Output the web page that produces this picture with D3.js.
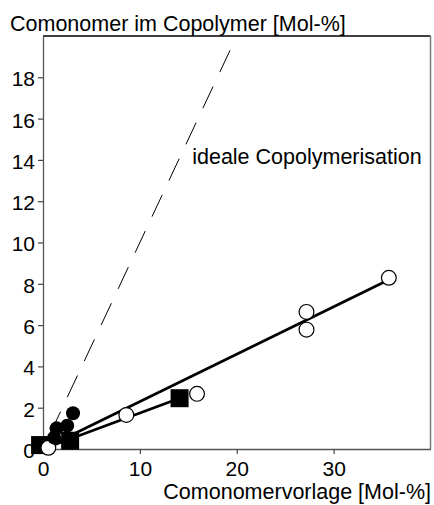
<!DOCTYPE html>
<html>
<head>
<meta charset="utf-8">
<script src="https://cdn.jsdelivr.net/npm/d3@7"></script>
<style>
  body { margin: 0; background: #fff; }
  svg text { font-family: "Liberation Sans", Arial, sans-serif; fill: #000; }
</style>
</head>
<body>
<div id="wrapper"></div>
<script>
// data (x = Comonomervorlage, y = Comonomer im Copolymer, Mol-%)
const openCircles = [
  [0.55, 0.06], [8.6, 1.65], [15.9, 2.67], [27.2, 6.64], [27.2, 5.78], [35.7, 8.29]
]
const filledCircles = [
  [3.1, 1.73], [2.5, 1.13], [1.4, 1.0], [1.15, 0.55]
]
const filledSquares = [
  [-0.3, 0.19], [2.8, 0.4], [14.1, 2.46]
]
const fitUpper = [[0, 0], [35.7, 8.2]]
const fitLower = [[0, 0], [14.1, 2.46]]
const idealLine = [[0, 0], [20, 20]]
const xTicks = [0, 10, 20, 30]
const yTicks = [0, 2, 4, 6, 8, 10, 12, 14, 16, 18]

function drawChart() {
  const dimensions = {
    width: 434,
    height: 505,
    margin: { top: 36, right: 3.5, bottom: 56, left: 43 },
  }
  dimensions.boundedWidth = dimensions.width - dimensions.margin.left - dimensions.margin.right
  dimensions.boundedHeight = dimensions.height - dimensions.margin.top - dimensions.margin.bottom

  const wrapper = d3.select("#wrapper")
    .append("svg")
    .attr("width", dimensions.width)
    .attr("height", dimensions.height)

  const bounds = wrapper.append("g")
    .attr("transform", `translate(${dimensions.margin.left}, ${dimensions.margin.top})`)

  const xScale = d3.scaleLinear()
    .domain([0, 40])
    .range([0, dimensions.boundedWidth])

  const yScale = d3.scaleLinear()
    .domain([0, 20])
    .range([dimensions.boundedHeight, 0])

  bounds.append("clipPath")
    .attr("id", "plotClip")
    .append("rect")
    .attr("width", dimensions.boundedWidth)
    .attr("height", dimensions.boundedHeight)

  // frame: top black, right grey
  bounds.append("line")
    .attr("x1", 0).attr("x2", dimensions.boundedWidth)
    .attr("y1", 0).attr("y2", 0)
    .attr("stroke", "#000").attr("stroke-width", 1.4)
  bounds.append("line")
    .attr("x1", dimensions.boundedWidth).attr("x2", dimensions.boundedWidth)
    .attr("y1", 0).attr("y2", dimensions.boundedHeight)
    .attr("stroke", "#777").attr("stroke-width", 1.5)

  // axes
  const xAxis = bounds.append("g")
    .attr("transform", `translate(0, ${dimensions.boundedHeight})`)
    .call(d3.axisBottom(xScale).tickValues(xTicks).tickSize(5).tickPadding(7).tickSizeOuter(0))
  const yAxis = bounds.append("g")
    .call(d3.axisLeft(yScale).tickValues(yTicks).tickSize(5).tickPadding(3).tickSizeOuter(0))

  ;[xAxis, yAxis].forEach(ax => {
    ax.select(".domain").attr("stroke", "#555").attr("stroke-width", 1.3)
    ax.selectAll(".tick line").attr("stroke", "#444").attr("stroke-width", 1.2)
    ax.selectAll(".tick text")
      .attr("fill", "#000")
      .style("font-size", "21px")
      .style("font-family", "'Liberation Sans', Arial, sans-serif")
  })
  yAxis.selectAll(".tick text").attr("dy", "0.4em")

  const line = d3.line()
    .x(d => xScale(d[0]))
    .y(d => yScale(d[1]))

  // ideal copolymerisation y = x
  bounds.append("path")
    .datum(idealLine)
    .attr("clip-path", "url(#plotClip)")
    .attr("d", line)
    .attr("fill", "none")
    .attr("stroke", "#000")
    .attr("stroke-width", 1)
    .attr("stroke-dasharray", "24,15.9")
    .attr("stroke-dashoffset", 22.6)

  bounds.selectAll(".fit")
    .data([fitUpper, fitLower])
    .enter().append("path")
      .attr("class", "fit")
      .attr("d", line)
      .attr("fill", "none")
      .attr("stroke", "#000")
      .attr("stroke-width", 2.7)

  // markers
  bounds.selectAll(".sq")
    .data(filledSquares)
    .enter().append("rect")
      .attr("class", "sq")
      .attr("x", d => xScale(d[0]) - 9)
      .attr("y", d => yScale(d[1]) - 9)
      .attr("width", 18)
      .attr("height", 18)
      .attr("fill", "#000")

  bounds.selectAll(".open")
    .data(openCircles)
    .enter().append("circle")
      .attr("class", "open")
      .attr("cx", d => xScale(d[0]))
      .attr("cy", d => yScale(d[1]))
      .attr("r", 7.4)
      .attr("fill", "#fff")
      .attr("stroke", "#000")
      .attr("stroke-width", 1.2)

  bounds.selectAll(".filled")
    .data(filledCircles)
    .enter().append("circle")
      .attr("class", "filled")
      .attr("cx", d => xScale(d[0]))
      .attr("cy", d => yScale(d[1]))
      .attr("r", 7)
      .attr("fill", "#000")

  // texts
  bounds.append("text")
    .attr("x", xScale(15.4))
    .attr("y", yScale(13.82))
    .style("font-size", "21.5px")
    .text("ideale Copolymerisation")

  wrapper.append("text")
    .attr("x", 10)
    .attr("y", 31)
    .style("font-size", "21.5px")
    .text("Comonomer im Copolymer [Mol-%]")

  wrapper.append("text")
    .attr("x", 431)
    .attr("y", 499)
    .attr("text-anchor", "end")
    .style("font-size", "21.5px")
    .text("Comonomervorlage [Mol-%]")
}

drawChart()
</script>
</body>
</html>
